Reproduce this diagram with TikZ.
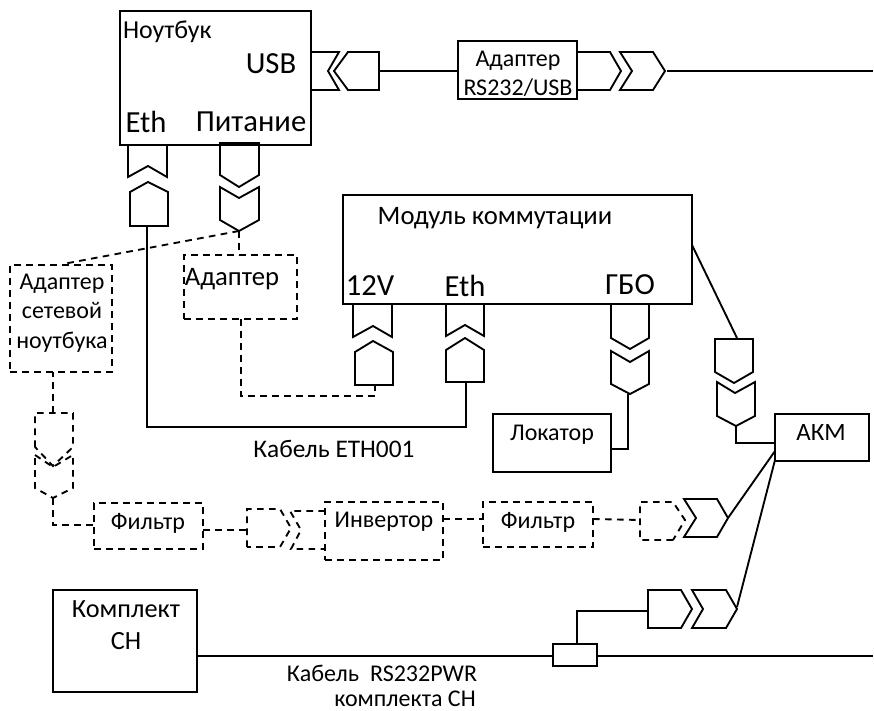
\documentclass[tikz,border=0pt]{standalone}
\usepackage{fontspec}
\setmainfont{Carlito}
\newcommand{\rboxn}[6]{% name, x1,y1,x2,y2, style
  \pgfmathsetmacro{\rw}{(#4-#2)*0.75}\pgfmathsetmacro{\rh}{(#5-#3)*0.75}
  \pgfmathsetmacro{\rcx}{(#2+#4)/2}\pgfmathsetmacro{\rcy}{(#3+#5)/2}
  \node[#6,minimum width=\rw pt,minimum height=\rh pt] (#1) at (\rcx,\rcy) {};}
\tikzset{
  x=0.75pt,y=-0.75pt,
  solidbox/.style={draw,line width=1.5pt,inner sep=0pt,outer sep=0pt,rectangle},
  dashbox/.style={solidbox,dash pattern=on 5pt off 4pt,line width=1.4pt},
  wire/.style={line width=1.4pt,line join=miter},
  dwire/.style={line width=1.4pt,dash pattern=on 5pt off 4pt},
  txt/.style={inner sep=0pt,outer sep=0pt,font=\fontsize{18}{21.7}\selectfont,align=center},
  bigtxt/.style={inner sep=0pt,outer sep=0pt,font=\fontsize{23}{27}\selectfont},
}
\begin{document}
\begin{tikzpicture}
\useasboundingbox (0,0) rectangle (874,710);
\fill[white] (0,0) rectangle (874,710);
% boxes
\rboxn{nb}{120}{11}{311}{145}{solidbox}
\rboxn{rs}{458}{41}{577}{99}{solidbox}
\rboxn{mod}{343}{195}{692}{304}{solidbox}
\rboxn{loc}{493}{414}{611}{472}{solidbox}
\rboxn{akm}{775}{414}{869}{461}{solidbox}
\rboxn{ch}{53}{590}{197}{692}{solidbox}
\rboxn{tee}{553}{644}{597}{666}{solidbox}
\rboxn{adnet}{10}{265}{112}{372}{dashbox}
\rboxn{ad}{184}{255}{297}{319}{dashbox}
\rboxn{f1}{94}{503}{203}{549}{dashbox}
\rboxn{inv}{325}{502}{443}{560}{dashbox}
\rboxn{f2}{483}{502}{593}{547}{dashbox}
% connector shells: solid
\draw[wire] (311,52)--(339,52)--(328,71)--(339,90)--(311,90);
\draw[wire] (379,52)--(348,52)--(334,71)--(348,90)--(379,90)--cycle;
\draw[wire] (577,52)--(610,52)--(621,71)--(610,90)--(577,90);
\draw[wire] (620,52)--(653,52)--(665,71)--(653,90)--(620,90)--(632,71)--cycle;
\draw[wire] (128,145)--(128,177)--(148,166)--(167,177)--(167,145);
\draw[wire] (130,226)--(130,192)--(148,182)--(168,192)--(168,226)--cycle;
\draw[wire] (220,143)--(220,175)--(239,187)--(259,175)--(259,143)--cycle;
\draw[wire] (220,187)--(239,198)--(259,187)--(259,220)--(239,231)--(220,220)--cycle;
\draw[wire] (353,304)--(353,337)--(373,326)--(392,337)--(392,304);
\draw[wire] (355,385)--(355,352)--(373,341)--(393,352)--(393,385)--cycle;
\draw[wire] (446,304)--(446,336)--(465,325)--(484,336)--(484,304);
\draw[wire] (446,382)--(446,350)--(465,338)--(484,350)--(484,382)--cycle;
\draw[wire] (611,304)--(611,338)--(630,349)--(649,338)--(649,304);
\draw[wire] (611,351)--(630,362)--(649,351)--(649,384)--(630,394)--(611,384)--cycle;
\draw[wire] (715,339)--(753,339)--(753,372)--(734,383)--(715,372)--cycle;
\draw[wire] (717,382)--(735,393)--(755,382)--(755,416)--(736,426)--(717,416)--cycle;
\draw[wire] (684,499)--(717,499)--(728,518)--(717,537)--(684,537)--(696,518)--cycle;
\draw[wire] (648,590)--(681,590)--(692,609)--(681,628)--(648,628)--cycle;
\draw[wire] (692,590)--(726,590)--(737,609)--(726,628)--(692,628)--(703,609)--cycle;
% connector shells: dashed
\draw[dwire] (35,447)--(35,413)--(73,413)--(73,447)--(53,466)--cycle;
\draw[dwire] (35,455)--(53,467)--(73,455)--(73,488)--(53,498)--(35,488)--cycle;
\draw[dwire] (247,547)--(247,509)--(280,509)--(291,528)--(280,547)--cycle;
\draw[dwire] (325,511)--(290,511)--(301,530)--(291,549)--(325,549);
\draw[dwire] (673,540)--(640,540)--(640,502)--(673,502)--(685,520)--cycle;
% named ends
\coordinate (usbp) at (379,71);
\coordinate (rsp) at (667,71);
\coordinate (eend) at (873,71);
\coordinate (ethp) at (147,226);
\coordinate (ethq) at (466,382);
\coordinate (pw) at (239,231);
\coordinate (p12) at (375,385);
\coordinate (gbo) at (628,394);
\coordinate (ak) at (736,426);
\coordinate (tipa) at (737,338);
\coordinate (tipb) at (728,518);
\coordinate (tipc) at (737,607);
\coordinate (pl4) at (648,611);
\coordinate (d1t) at (53,413);
\coordinate (d1b) at (53,498);
\coordinate (d2l) at (247,530);
\coordinate (d3l) at (640,520);
\coordinate (rend) at (873,656);
% wires
\draw[wire] (usbp)--(rs.west|-usbp);
\draw[wire] (rsp)--(eend);
\draw[wire] (ethp)|-(ethq|-0,427)--(ethq);
\draw[wire] (gbo)|-(611,449);
\draw[wire] (692,245)--(tipa);
\draw[wire] (ak)|-(776,443);
\draw[wire] (775,451)--(tipb);
\draw[wire] (775,460)--(tipc);
\draw[wire] (ch.east|-0,656)--(tee.west|-0,656);
\draw[wire] (tee.east|-0,656)--(rend);
\draw[wire] (pl4)-|(tee.north-|577,0);
% dashed wires
\draw[dwire] (pw)--(63,264);
\draw[dwire] (pw)--(ad.north-|pw);
\draw[dwire] (241,319)|-(p12|-0,396)--(p12);
\draw[dwire] (d1t)--(d1t|-adnet.south);
\draw[dwire] (d1b)|-(f1.west|-0,525);
\draw[dwire] (f1.east|-0,530)--(d2l);
\draw[dwire] (inv.east|-0,519)--(f2.west|-0,519);
\draw[dwire] (f2.east|-0,519)--(d3l);
% texts
\node[txt,anchor=west,font=\fontsize{19.4}{23}\selectfont] (t1) at (123,32) {Ноутбук};
\node[bigtxt] (t2) at (271,64) {USB};
\node[bigtxt] (t3) at (146,122) {Eth};
\node[bigtxt] (t4) at (251,122) {Питание};
\node[txt] (t5) at (518,74) {Адаптер\\RS232/USB};
\node[txt,font=\fontsize{20}{24}\selectfont] (t6) at (495,218) {Модуль коммутации};
\node[bigtxt] (t7) at (370,286) {12V};
\node[bigtxt] (t8) at (465,286) {Eth};
\node[bigtxt] (t9) at (630,285) {ГБО};
\node[txt,font=\fontsize{18}{22.3}\selectfont] (t10) at (62,313) {Адаптер\\сетевой\\ноутбука};
\node[txt,font=\fontsize{20}{24}\selectfont] (t11) at (232,279) {Адаптер};
\node[txt] (t12) at (552,435) {Локатор};
\node[txt,font=\fontsize{18.7}{22}\selectfont] (t13) at (821,432) {АКМ};
\node[txt,font=\fontsize{19}{23}\selectfont] (t14) at (334,449) {Кабель ETH001};
\node[txt] (t15) at (148,523) {Фильтр};
\node[txt] (t16) at (384,522) {Инвертор};
\node[txt] (t17) at (538,522) {Фильтр};
\node[txt,font=\fontsize{19.7}{24}\selectfont] (t18) at (126,625) {Комплект\\СН};
\node[txt] (t19) at (382,673) {Кабель\ \ RS232PWR};
\node[txt] (t20) at (405,699) {комплекта СН};
\end{tikzpicture}
\end{document}
